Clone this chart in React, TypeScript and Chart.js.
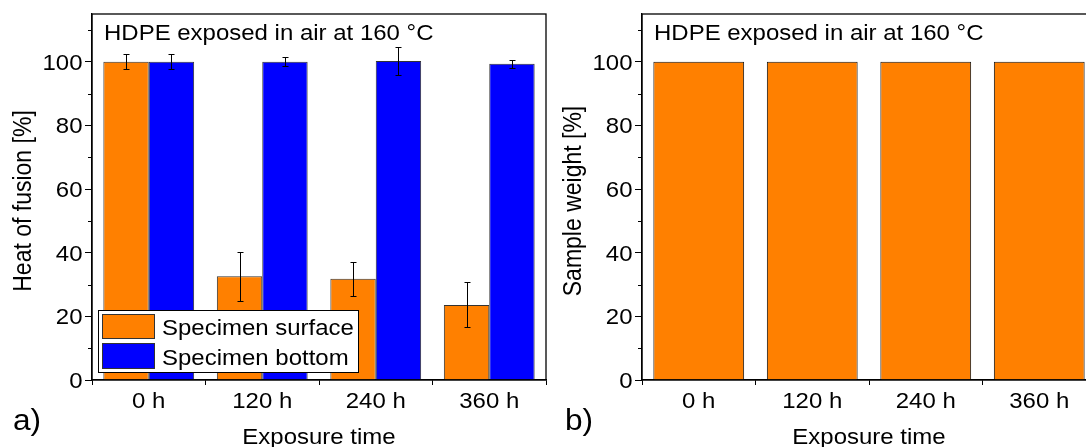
import React, { useEffect, useRef } from 'react';
import { Chart, registerables } from 'chart.js';

Chart.register(...registerables);

const categories = ['0 h', '120 h', '240 h', '360 h'];
const surfaceHeat = [100, 32.6, 31.8, 23.6];
const surfaceErr = [2.4, 7.7, 5.4, 7.1];
const bottomHeat = [100, 100, 100.2, 99.4];
const bottomErr = [2.4, 1.4, 4.4, 1.3];
const sampleWeight = [100, 100, 100, 100];
const majorTicks = [0, 20, 40, 60, 80, 100];
const minorTicks = [10, 30, 50, 70, 90, 110];

const panelTitle = 'HDPE exposed in air at 160 °C';
const xTitle = 'Exposure time';
const leftYTitle = 'Heat of fusion [%]';
const rightYTitle = 'Sample weight [%]';

const ORANGE = '#FF8000';
const BLUE = '#0000FF';
const EDGE = '#333333';
const FONT = '"Liberation Sans", Arial, sans-serif';
const SX = 1.09; // horizontal stretch of the original lettering

type PanelOpts = {
  yTitle: string;
  letter: string;
  legend: boolean;
};

function txt(ctx: CanvasRenderingContext2D, s: string, x: number, y: number, align: CanvasTextAlign, size = 22) {
  ctx.save();
  ctx.translate(x, y);
  ctx.scale(SX, 1);
  ctx.font = `${size}px ${FONT}`;
  ctx.textAlign = align;
  ctx.textBaseline = 'alphabetic';
  ctx.fillStyle = '#000';
  ctx.fillText(s, 0, 0);
  ctx.restore();
}

function annotatePlugin(p: PanelOpts) {
  return {
    id: 'annot',
    afterDatasetsDraw(chart: any) {
      const ctx = chart.ctx;
      const ys = chart.scales.y;
      ctx.save();
      ctx.strokeStyle = '#000';
      ctx.lineWidth = 1;
      chart.data.datasets.forEach((ds: any, i: number) => {
        const errs = ds.errors as number[] | undefined;
        if (!errs) return;
        const meta = chart.getDatasetMeta(i);
        meta.data.forEach((bar: any, j: number) => {
          const v = ds.data[j];
          const e = errs[j];
          const x = Math.round(bar.x) + 0.5;
          const yt = Math.round(ys.getPixelForValue(v + e)) + 0.5;
          const yb = Math.round(ys.getPixelForValue(v - e)) + 0.5;
          ctx.beginPath();
          ctx.moveTo(x, yt);
          ctx.lineTo(x, yb);
          ctx.moveTo(x - 3, yt);
          ctx.lineTo(x + 3, yt);
          ctx.moveTo(x - 3, yb);
          ctx.lineTo(x + 3, yb);
          ctx.stroke();
        });
      });
      ctx.restore();
    },
    afterDraw(chart: any) {
      const ctx = chart.ctx;
      const a = chart.chartArea;
      const ys = chart.scales.y;
      const xs = chart.scales.x;
      ctx.save();
      // frame
      ctx.strokeStyle = '#000';
      ctx.lineWidth = 1.3;
      ctx.strokeRect(a.left, a.top, a.right - a.left, a.bottom - a.top);
      // minor ticks
      ctx.lineWidth = 1;
      ctx.beginPath();
      minorTicks.forEach((v) => {
        const y = Math.round(ys.getPixelForValue(v)) + 0.5;
        ctx.moveTo(a.left - 4, y);
        ctx.lineTo(a.left, y);
      });
      ctx.stroke();

      // tick labels, positioned by the chart's scales
      majorTicks.forEach((v) => {
        txt(ctx, String(v), a.left - 9.5, ys.getPixelForValue(v) + 8, 'right');
      });
      categories.forEach((c, i) => {
        txt(ctx, c, xs.getPixelForValue(i), 407.5, 'center');
      });

      txt(ctx, panelTitle, a.left + 12, 40, 'left');
      txt(ctx, xTitle, (a.left + a.right) / 2, 444, 'center');

      ctx.save();
      ctx.translate(31, (a.top + a.bottom) / 2 + 4);
      ctx.rotate(-Math.PI / 2);
      ctx.scale(1, SX);
      ctx.font = `23px ${FONT}`;
      ctx.textAlign = 'center';
      ctx.textBaseline = 'alphabetic';
      ctx.fillStyle = '#000';
      ctx.fillText(p.yTitle, 0, 0);
      ctx.restore();

      txt(ctx, p.letter, p.legend ? 13 : 15, 430, 'left', 29);

      if (p.legend) {
        const bx = 98.5, by = 310.5, bw = 260, bh = 62;
        ctx.fillStyle = '#fff';
        ctx.fillRect(bx, by, bw, bh);
        ctx.strokeStyle = '#000';
        ctx.lineWidth = 1;
        ctx.strokeRect(bx, by, bw, bh);
        const items = chart.data.datasets.map((ds: any) => ({ label: ds.label, color: ds.backgroundColor }));
        const rows = [{ y: 314, h: 25, base: 335 }, { y: 343, h: 26, base: 365 }];
        items.forEach((it: any, k: number) => {
          const r = rows[k];
          ctx.fillStyle = it.color;
          ctx.fillRect(102, r.y, 53, r.h);
          ctx.strokeStyle = EDGE;
          ctx.strokeRect(102.5, r.y + 0.5, 52, r.h - 1);
          txt(ctx, it.label, 162, r.base, 'left');
        });
      }
      ctx.restore();
    },
  };
}

function buildConfig(datasets: any[], p: PanelOpts): any {
  return {
    type: 'bar',
    data: { labels: categories, datasets },
    options: {
      responsive: false,
      animation: false,
      layout: { padding: { left: 0, top: 14, right: 14, bottom: 0 } },
      plugins: { legend: { display: false }, tooltip: { enabled: false }, title: { display: false } },
      scales: {
        x: {
          afterFit: (s: any) => { s.height = 67; },
          grid: { display: true, drawOnChartArea: false, drawTicks: true, tickLength: 5, color: '#000', offset: true },
          border: { display: true, color: '#000', width: 1.3 },
          ticks: { display: false },
        },
        y: {
          min: 0,
          max: 115,
          afterFit: (s: any) => { s.width = 92; },
          afterBuildTicks: (s: any) => { s.ticks = majorTicks.map((v) => ({ value: v })); },
          grid: { display: true, drawOnChartArea: false, drawTicks: true, tickLength: 7, color: '#000' },
          border: { display: true, color: '#000', width: 1.3 },
          ticks: { display: false },
        },
      },
    },
    plugins: [annotatePlugin(p)],
  };
}

export default function App() {
  const leftRef = useRef<HTMLCanvasElement>(null);
  const rightRef = useRef<HTMLCanvasElement>(null);

  useEffect(() => {
    const left = new Chart(
      leftRef.current as HTMLCanvasElement,
      buildConfig(
        [
          {
            label: 'Specimen surface',
            data: surfaceHeat,
            errors: surfaceErr,
            backgroundColor: ORANGE,
            borderColor: EDGE,
            borderWidth: 1,
            categoryPercentage: 0.8,
            barPercentage: 1.0,
          },
          {
            label: 'Specimen bottom',
            data: bottomHeat,
            errors: bottomErr,
            backgroundColor: BLUE,
            borderColor: EDGE,
            borderWidth: 1,
            categoryPercentage: 0.8,
            barPercentage: 1.0,
          },
        ],
        { yTitle: leftYTitle, letter: 'a)', legend: true }
      )
    );
    const right = new Chart(
      rightRef.current as HTMLCanvasElement,
      buildConfig(
        [
          {
            label: 'Sample weight',
            data: sampleWeight,
            backgroundColor: ORANGE,
            borderColor: '#111',
            borderWidth: 1,
            categoryPercentage: 0.8,
            barPercentage: 1.0,
          },
        ],
        { yTitle: rightYTitle, letter: 'b)', legend: false }
      )
    );
    return () => {
      left.destroy();
      right.destroy();
    };
  }, []);

  return (
    <div style={{ position: 'fixed', left: 0, top: 0, width: 1086, height: 447, overflow: 'hidden', background: '#fff' }}>
      <canvas ref={leftRef} width={560} height={447} style={{ position: 'absolute', left: 0, top: 0 }} />
      <canvas ref={rightRef} width={560} height={447} style={{ position: 'absolute', left: 550, top: 0 }} />
    </div>
  );
}
